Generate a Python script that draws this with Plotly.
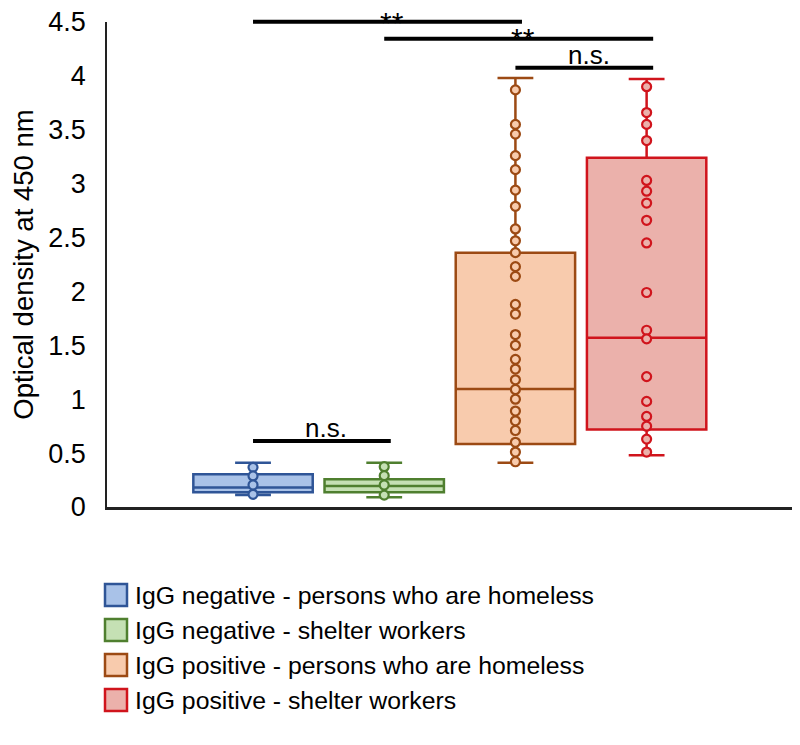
import plotly.graph_objects as go


W, H = 800, 745
OFF = 8  # the page draws the figure 8px in from the top left corner
MARGIN = dict(l=99, r=13, t=14, b=246)
FONT = 'Arial, Liberation Sans, sans-serif'

# groups, in drawing order
groups = [
    'IgG negative - persons who are homeless',
    'IgG negative - shelter workers',
    'IgG positive - persons who are homeless',
    'IgG positive - shelter workers',
]
line_colors = ['#2f5597', '#4f7f2f', '#9c4a14', '#d0141c']
fill_colors = ['#a9c2e8', '#c5e0b4', '#f8cbad', '#ebb1ab']

# box statistics
q1 = [0.136, 0.136, 0.585, 0.72]
median = [0.18, 0.195, 1.095, 1.57]
q3 = [0.304, 0.257, 2.36, 3.24]
lowerfence = [0.111, 0.09, 0.41, 0.48]
upperfence = [0.411, 0.411, 3.98, 3.97]

# individual points (inner points)
pts_neg_homeless = [0.368, 0.288, 0.204, 0.118]
pts_neg_workers = [0.374, 0.291, 0.204, 0.111]
pts_pos_homeless = [3.87, 3.55, 3.46, 3.26, 3.13, 2.94, 2.79, 2.58, 2.47, 2.36,
                    2.23, 2.14, 1.88, 1.79, 1.60, 1.50, 1.37, 1.28, 1.18, 1.09,
                    1.00, 0.89, 0.80, 0.71, 0.60, 0.51, 0.42]
pts_pos_workers = [3.90, 3.66, 3.55, 3.40, 3.03, 2.93, 2.82, 2.66, 2.45, 1.99,
                   1.64, 1.56, 1.21, 0.98, 0.84, 0.75, 0.63, 0.51]
points = [pts_neg_homeless, pts_neg_workers, pts_pos_homeless, pts_pos_workers]

# significance brackets: from group, to group, bar level, label, label level
sig_from = [0, 1, 2, 0]
sig_to = [2, 3, 3, 1]
sig_y = [4.503, 4.345, 4.076, 0.613]
sig_text = ['**', '**', 'n.s.', 'n.s.']
sig_size = [30, 30, 26, 26]
sig_text_y = [4.50, 4.35, 4.197, 0.733]

Y_MAX = 4.5
X_MIN, X_MAX = -1.113, 4.131

fig = go.Figure()
for i, name in enumerate(groups):
    fig.add_trace(go.Box(
        x=[i], q1=[q1[i]], median=[median[i]], q3=[q3[i]],
        lowerfence=[lowerfence[i]], upperfence=[upperfence[i]],
        name=name, width=0.91, whiskerwidth=0.3,
        line=dict(color=line_colors[i], width=2.5),
        fillcolor=fill_colors[i], boxpoints=False,
        showlegend=False, hoverinfo='skip',
    ))
    fig.add_trace(go.Scatter(
        x=[i] * len(points[i]), y=points[i], mode='markers',
        marker=dict(size=9, color=fill_colors[i], symbol='circle',
                    line=dict(color=line_colors[i], width=2.2)),
        showlegend=False, hoverinfo='y',
    ))


def xp(v):
    return (v - X_MIN) / (X_MAX - X_MIN)


def yp(v):
    return v / Y_MAX


for a, b, y, t, s, ty in zip(sig_from, sig_to, sig_y, sig_text, sig_size, sig_text_y):
    fig.add_shape(type='line', xref='paper', yref='paper',
                  x0=xp(a), x1=xp(b + 0.05), y0=yp(y), y1=yp(y),
                  line=dict(color='black', width=4))
    fig.add_annotation(x=xp((a + b) / 2 + 0.06), y=yp(ty), xref='paper', yref='paper',
                       text=t, showarrow=False, xanchor='center', yanchor='middle',
                       font=dict(size=s, color='black', family=FONT))

# legend drawn by hand (bigger swatches than plotly's box icon)
plot_w = W - MARGIN['l'] - MARGIN['r']
plot_h = H - MARGIN['t'] - MARGIN['b']
bottom = H - MARGIN['b']
legend_rows = [595, 630, 665, 700]
for i, name in enumerate(groups):
    cy = legend_rows[i] - OFF
    fig.add_shape(type='rect', xref='paper', yref='paper',
                  x0=(105 - OFF - MARGIN['l']) / plot_w, x1=(127 - OFF - MARGIN['l']) / plot_w,
                  y0=(bottom - cy - 11) / plot_h, y1=(bottom - cy + 11) / plot_h,
                  fillcolor=fill_colors[i], line=dict(color=line_colors[i], width=2.5))
    fig.add_annotation(x=(133 - OFF - MARGIN['l']) / plot_w, y=(bottom - cy) / plot_h,
                       xref='paper', yref='paper', text=name, showarrow=False,
                       xanchor='left', yanchor='middle',
                       font=dict(size=24.8, color='black', family=FONT))

fig.update_xaxes(
    range=[X_MIN, X_MAX], showticklabels=False, showgrid=False, zeroline=False,
    showline=True, linecolor='#222222', linewidth=3, ticks='', automargin=False,
)
fig.update_yaxes(
    range=[0, Y_MAX], dtick=0.5, showgrid=False, zeroline=False,
    showline=True, linecolor='#222222', linewidth=1.5, ticks='',
    ticklabelstandoff=14, ticklabeloverflow='allow', automargin=False,
    tickfont=dict(size=27, color='black', family=FONT),
    title=dict(text='Optical density at 450 nm', standoff=16,
               font=dict(size=27.5, color='black', family=FONT)),
)
fig.update_layout(
    width=W, height=H, margin=MARGIN,
    paper_bgcolor='white', plot_bgcolor='white',
    font=dict(family=FONT, color='black'),
    showlegend=False,
)

fig.write_html('out.html')
